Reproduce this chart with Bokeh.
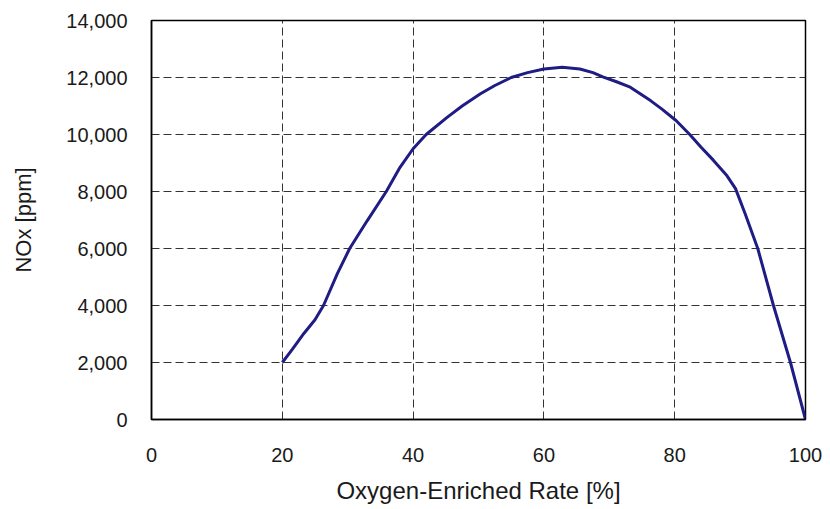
from bokeh.plotting import figure
from bokeh.models import FixedTicker, NumeralTickFormatter, Range1d
from bokeh.embed import file_html
from bokeh.resources import INLINE

# Oxygen-enriched rate [%]
rate = [20, 21.5, 23.3, 25, 26.3, 28.4, 30.3, 33, 35.9, 38, 40, 42,
        45.2, 47.5, 50.3, 52.5, 55, 57.5, 60, 62.8, 65.5, 67.5, 69, 71,
        73.2, 76.3, 78, 80.2, 82.3, 84, 85.9, 88, 89.3, 90.8, 92.7, 95.1,
        97.7, 100]
# NOx [ppm]
nox = [2000, 2450, 3020, 3500, 4000, 5110, 6000, 6980, 8000, 8850,
       9500, 10000, 10600, 11000, 11430, 11720, 12000, 12170, 12300, 12360,
       12300, 12170, 12020, 11860, 11660, 11190, 10900, 10490, 10000, 9560,
       9100, 8550, 8100, 7200, 6000, 4000, 2000, 0]

x_ticks = [0, 20, 40, 60, 80, 100]
y_ticks = [0, 2000, 4000, 6000, 8000, 10000, 12000, 14000]

FONT = "Liberation Sans"

p = figure(width=830, height=509, output_backend="svg", toolbar_location=None,
           x_range=Range1d(0, 100), y_range=Range1d(0, 14000),
           min_border_left=151, min_border_right=25, min_border_top=20,
           min_border_bottom=90)

p.line(rate, nox, line_color="#1f1c84", line_width=3)

p.outline_line_color = "black"
p.outline_line_width = 1.5

for ax in (p.xaxis[0], p.yaxis[0]):
    ax.major_tick_in = 0
    ax.major_tick_out = 0
    ax.minor_tick_in = 0
    ax.minor_tick_out = 0
    ax.axis_line_color = "black"
    ax.axis_line_width = 1.5
    ax.major_label_text_font = FONT
    ax.major_label_text_font_size = "20px"
    ax.major_label_text_color = "#1a1a1a"
    ax.axis_label_text_font = FONT
    ax.axis_label_text_font_style = "normal"
    ax.axis_label_text_color = "#1a1a1a"

p.xaxis.axis_label_text_font_size = "24px"
p.yaxis.axis_label_text_font_size = "22px"

p.xaxis.ticker = FixedTicker(ticks=x_ticks)
p.yaxis.ticker = FixedTicker(ticks=y_ticks)
p.yaxis.formatter = NumeralTickFormatter(format="0,0")
p.xaxis.axis_label = "Oxygen-Enriched Rate [%]"
p.yaxis.axis_label = "NOx [ppm]"
p.xaxis.major_label_standoff = 28
p.yaxis.major_label_standoff = 24
p.xaxis.axis_label_standoff = 12
p.yaxis.axis_label_standoff = 27

for g in (p.xgrid[0], p.ygrid[0]):
    g.grid_line_color = "#333333"
    g.grid_line_dash = "8 4"
    g.grid_line_width = 1

p.background_fill_color = "white"
p.border_fill_color = "white"

open("out.html", "w").write(file_html(p, INLINE))
